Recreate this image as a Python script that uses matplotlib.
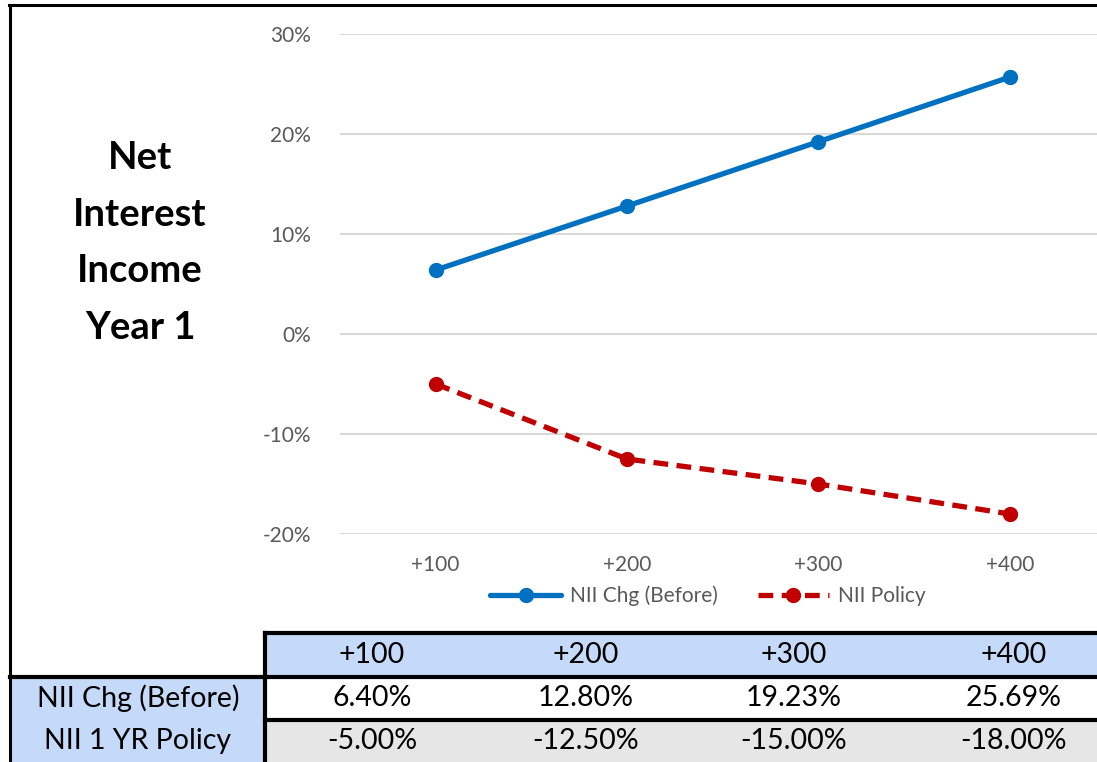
import numpy as np
import matplotlib
matplotlib.use("Agg")
import matplotlib.pyplot as plt
from matplotlib.patches import Rectangle
from matplotlib.lines import Line2D

# rate shock scenarios and NII sensitivity (%)
scenarios = ["+100", "+200", "+300", "+400"]
nii_before = [6.40, 12.80, 19.23, 25.69]
nii_policy = [-5.00, -12.50, -15.00, -18.00]
series_names = ["NII Chg (Before)", "NII Policy"]
row_labels = ["NII Chg (Before)", "NII 1 YR Policy"]
title_lines = ["Net", "Interest", "Income", "Year 1"]
y_ticks = [-20, -10, 0, 10, 20, 30]

plt.rcParams["font.family"] = ["Lato", "DejaVu Sans"]

W, H = 1097, 762
fig = plt.figure(figsize=(W / 100, H / 100), dpi=100)

def fx(x):
    return x / W

def fy(y):
    return 1 - y / H

BLUE = "#0070C0"
RED = "#C00000"
GREY = "#595959"

# chart area (right side runs a little past the page edge)
ax = fig.add_axes([fx(340), fy(534), fx(1105.5) - fx(340), fy(34) - fy(534)])
x = np.arange(len(scenarios))
ax.plot(x, nii_before, color=BLUE, lw=3.8, marker="o", ms=10, label=series_names[0],
        solid_capstyle="round")
ax.plot(x, nii_policy, color=RED, lw=3.8, marker="o", ms=10, label=series_names[1],
        dashes=(2.8, 1.6))
ax.set_xlim(-0.5, len(scenarios) - 0.5)
ax.set_ylim(-20, 30)
ax.set_yticks(y_ticks)
ax.set_yticklabels([f"{t}%" for t in y_ticks])
ax.set_xticks(x)
ax.set_xticklabels(scenarios)
ax.grid(axis="y", color="#D9D9D9", lw=1.5)
ax.set_axisbelow(True)
for s in ax.spines.values():
    s.set_visible(False)
ax.tick_params(axis="both", length=0, labelsize=15, labelcolor=GREY)
ax.tick_params(axis="y", pad=21)
ax.tick_params(axis="x", pad=15)

fig.legend(loc="center", bbox_to_anchor=(fx(708), fy(596)), ncol=2, frameon=False,
           fontsize=15, labelcolor=GREY, handlelength=3.4, columnspacing=1.9,
           handletextpad=0.45)

# title block on the left
for i, line in enumerate(title_lines):
    fig.text(fx(140), fy(158 + i * 56.7), line, ha="center", va="center",
             fontsize=27.5, fontweight="bold", color="black")

# data table below the chart
col_x = [372, 586, 794, 1014]
tbl_left, lbl_left = 265, 10
r_head, r1, r2, r_end = 633, 677, 720, 762
fs = 20.5

fig.add_artist(Rectangle((fx(tbl_left), fy(r1)), fx(W) - fx(tbl_left), fy(r_head) - fy(r1),
                         transform=fig.transFigure, facecolor="#C5D9F9", edgecolor="none"))
fig.add_artist(Rectangle((fx(lbl_left), fy(r_end)), fx(tbl_left) - fx(lbl_left), fy(r1) - fy(r_end),
                         transform=fig.transFigure, facecolor="#C5D9F9", edgecolor="none"))
fig.add_artist(Rectangle((fx(tbl_left), fy(r_end)), fx(W) - fx(tbl_left), fy(r2) - fy(r_end),
                         transform=fig.transFigure, facecolor="#E7E6E6", edgecolor="none"))

for cx, s in zip(col_x, scenarios):
    fig.text(fx(cx), fy((r_head + r1) / 2), s, ha="center", va="center", fontsize=fs)
for cx, v in zip(col_x, nii_before):
    fig.text(fx(cx), fy((r1 + r2) / 2), f"{v:.2f}%", ha="center", va="center", fontsize=fs)
for cx, v in zip(col_x, nii_policy):
    fig.text(fx(cx), fy((r2 + r_end) / 2), f"{v:.2f}%", ha="center", va="center", fontsize=fs)
fig.text(fx(138), fy((r1 + r2) / 2), row_labels[0], ha="center", va="center", fontsize=fs)
fig.text(fx(138), fy((r2 + r_end) / 2), row_labels[1], ha="center", va="center", fontsize=fs)

def hline(y, x0, x1, lw=3):
    fig.add_artist(Line2D([fx(x0), fx(x1)], [fy(y), fy(y)], transform=fig.transFigure,
                          color="black", lw=lw, solid_capstyle="projecting"))

def vline(x0, y0, y1, lw=3):
    fig.add_artist(Line2D([fx(x0), fx(x0)], [fy(y0), fy(y1)], transform=fig.transFigure,
                          color="black", lw=lw, solid_capstyle="projecting"))

hline(r_head, tbl_left, W)
hline(r1, lbl_left, W)
hline(r2, tbl_left, W)
vline(tbl_left, r_head, H + 5)

# outer frame
hline(5, 9, W + 5, lw=2.2)
vline(10, 5, H + 5, lw=2.2)

fig.savefig("out.png", dpi=100)
